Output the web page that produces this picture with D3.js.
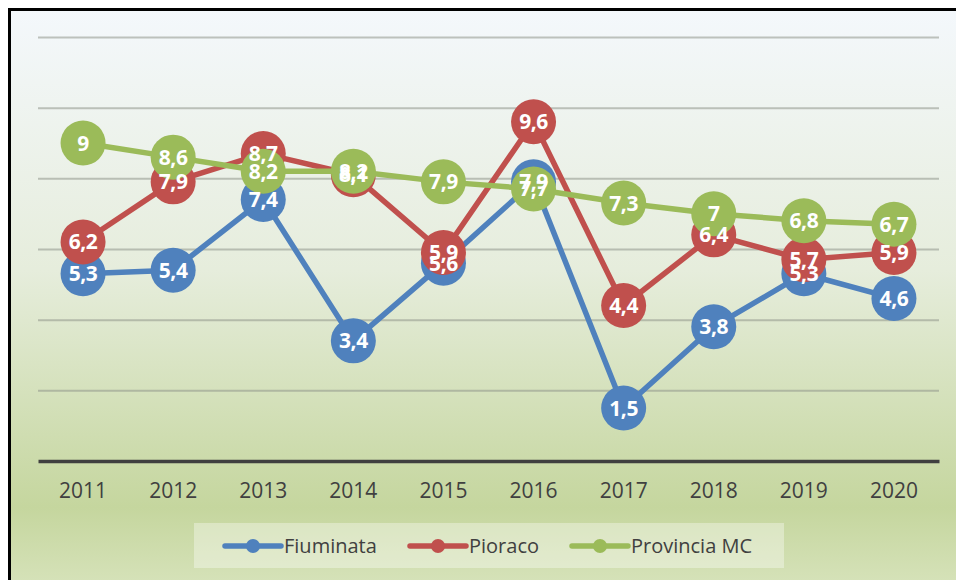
<!DOCTYPE html>
<html>
<head>
<meta charset="utf-8">
<script src="https://cdn.jsdelivr.net/npm/d3@7"></script>
<style>
  html, body { margin: 0; padding: 0; background: #fff; }
  svg { display: block; }
</style>
</head>
<body>
<div class="chart"></div>
<script>
// ----------------------------------
// DATA
// ----------------------------------
const years = ['2011','2012','2013','2014','2015','2016','2017','2018','2019','2020'];
const fiuminata = [5.3, 5.4, 7.4, 3.4, 5.6, 7.9, 1.5, 3.8, 5.3, 4.6];
const pioraco = [6.2, 7.9, 8.7, 8.1, 5.9, 9.6, 4.4, 6.4, 5.7, 5.9];
const provincia = [9, 8.6, 8.2, 8.2, 7.9, 7.7, 7.3, 7, 6.8, 6.7];
const seriesNames = ['Fiuminata', 'Pioraco', 'Provincia MC'];
const yTicks = [0, 2, 4, 6, 8, 10, 12];

const colors = ['#4f81bd', '#c0504d', '#9bbb59'];
const series = [fiuminata, pioraco, provincia].map((vals, i) => ({
  name: seriesNames[i],
  color: colors[i],
  values: vals.map((v, j) => ({ year: years[j], value: v }))
}));

// ----------------------------------
// LAYOUT + SCALES
// ----------------------------------
const width = 956, height = 580;
const margin = { top: 37, right: 17, bottom: 119, left: 38 };
const innerWidth = width - margin.left - margin.right,
      innerHeight = height - margin.top - margin.bottom;

const xScale = d3.scaleBand()
  .domain(years)
  .range([0, innerWidth]);

const yScale = d3.scaleLinear()
  .domain([0, 12])
  .range([innerHeight, 0]);

const fmt = v => String(v).replace('.', ',');

const svg = d3.select('.chart').append('svg')
  .attr('width', width)
  .attr('height', height);

// background gradient
const grad = svg.append('defs').append('linearGradient')
  .attr('id', 'bg').attr('x1', 0).attr('y1', 0).attr('x2', 0).attr('y2', 1);
[[0, '#f4f8fc'], [0.45, '#e6eddc'], [0.86, '#c5d69e'], [1, '#d7e3bb']].forEach(s => {
  grad.append('stop').attr('offset', s[0]).attr('stop-color', s[1]);
});

svg.append('rect')
  .attr('x', 9).attr('y', 9)
  .attr('width', width).attr('height', height)
  .attr('fill', 'url(#bg)');

// chart border (left + top visible)
svg.append('path')
  .attr('d', `M9.5,${height} V9.5 H${width}`)
  .attr('fill', 'none')
  .attr('stroke', '#000')
  .attr('stroke-width', 3);

const chartInner = svg.append('g')
  .attr('transform', `translate(${margin.left},${margin.top})`);

// ----------------------------------
// GRID + AXES
// ----------------------------------
const yAxis = d3.axisLeft(yScale)
  .tickValues(yTicks.filter(d => d > 0))
  .tickSize(-innerWidth)
  .tickFormat('');

chartInner.append('g')
  .attr('class', 'y axis')
  .call(yAxis)
  .call(g => g.select('.domain').remove())
  .call(g => g.selectAll('.tick line')
    .attr('stroke', '#8f968a')
    .attr('stroke-opacity', 0.55)
    .attr('stroke-width', 2));

const xAxis = d3.axisBottom(xScale).tickSize(0).tickPadding(22);

chartInner.append('g')
  .attr('class', 'x axis')
  .attr('transform', `translate(0,${innerHeight})`)
  .call(xAxis)
  .call(g => g.select('.domain')
    .attr('stroke', '#404040')
    .attr('stroke-width', 3.5))
  .call(g => g.selectAll('.tick text')
    .attr('fill', '#404040')
    .style('font-family', '"Open Sans", sans-serif')
    .style('font-size', '21px'));

// ----------------------------------
// LINES + MARKERS
// ----------------------------------
const line = d3.line()
  .x(d => xScale(d.year) + xScale.bandwidth() / 2)
  .y(d => yScale(d.value));

series.forEach(s => {
  const g = chartInner.append('g').attr('class', 'series');
  g.append('path')
    .datum(s.values)
    .attr('d', line)
    .attr('fill', 'none')
    .attr('stroke', s.color)
    .attr('stroke-width', 5.5)
    .attr('stroke-linejoin', 'round')
    .attr('stroke-linecap', 'round');
  g.selectAll('circle')
    .data(s.values)
    .enter()
    .append('circle')
    .attr('cx', d => xScale(d.year) + xScale.bandwidth() / 2)
    .attr('cy', d => yScale(d.value))
    .attr('r', 22.5)
    .attr('fill', s.color);
});

// labels on top of everything
series.forEach(s => {
  chartInner.append('g').selectAll('text')
    .data(s.values)
    .enter()
    .append('text')
    .attr('x', d => xScale(d.year) + xScale.bandwidth() / 2)
    .attr('y', d => yScale(d.value))
    .attr('dy', '0.36em')
    .attr('text-anchor', 'middle')
    .attr('fill', '#fff')
    .style('font-family', '"Open Sans", sans-serif')
    .style('font-weight', 'bold')
    .style('font-size', '21px')
    .style('letter-spacing', '-0.4px')
    .text(d => fmt(d.value));
});

// ----------------------------------
// LEGEND
// ----------------------------------
const legend = svg.append('g').attr('class', 'legend');
legend.append('rect')
  .attr('x', 194).attr('y', 523)
  .attr('width', 590).attr('height', 45)
  .attr('fill', '#ffffff')
  .attr('fill-opacity', 0.35);

const legendX = [225, 410, 572];
series.forEach((s, i) => {
  const lg = legend.append('g').attr('transform', `translate(${legendX[i]},546)`);
  lg.append('line')
    .attr('x1', 0).attr('x2', 56)
    .attr('stroke', s.color)
    .attr('stroke-width', 5.5)
    .attr('stroke-linecap', 'round');
  lg.append('circle')
    .attr('cx', 28).attr('r', 7)
    .attr('fill', s.color);
  lg.append('text')
    .attr('x', 59)
    .attr('dy', '0.35em')
    .attr('fill', '#404040')
    .style('font-family', '"Open Sans", sans-serif')
    .style('font-size', '20px')
    .text(s.name);
});
</script>
</body>
</html>
